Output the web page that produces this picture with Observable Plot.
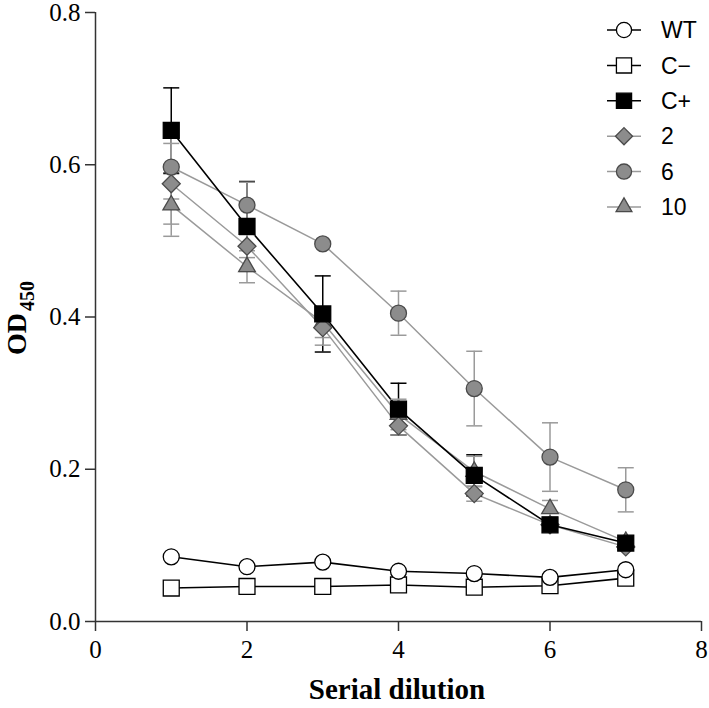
<!DOCTYPE html>
<html>
<head>
<meta charset="utf-8">
<script src="https://cdn.jsdelivr.net/npm/d3@7"></script>
<script src="https://cdn.jsdelivr.net/npm/@observablehq/plot@0.6"></script>
<style>
  html, body { margin: 0; padding: 0; background: #fff; }
  #chart { width: 709px; height: 708px; }
</style>
</head>
<body>
<div id="chart"></div>
<script>
// ---- data ----
const dilution = [1, 2, 3, 4, 5, 6, 7];
const seriesNames = ["WT", "C\u2212", "C+", "2", "6", "10"];
const wtValues   = [0.085, 0.072, 0.078, 0.066, 0.063, 0.058, 0.068];
const cNegValues = [0.044, 0.046, 0.046, 0.048, 0.045, 0.047, 0.057];
const cPosValues = [0.645, 0.519, 0.404, 0.279, 0.192, 0.127, 0.103];
const cPosErr    = [0.056, 0.059, 0.050, 0.034, 0.027, 0.008, 0.004];
const s2Values   = [0.575, 0.493, 0.386, 0.257, 0.168, 0.127, 0.098];
const s2Err      = [0.053, 0.015, 0.023, 0.012, 0.010, 0.008, 0.004];
const s6Values   = [0.597, 0.547, 0.496, 0.405, 0.306, 0.216, 0.173];
const s6Err      = [0.042, 0.030, 0.000, 0.029, 0.049, 0.045, 0.029];
const s10Values  = [0.547, 0.466, 0.393, 0.272, 0.197, 0.148, 0.105];
const s10Err     = [0.041, 0.021, 0.020, 0.020, 0.020, 0.011, 0.004];
const xTicks = [0, 2, 4, 6, 8];
const yTicks = [0, 0.2, 0.4, 0.6, 0.8];

// ---- styles per series ----
const GRAY_FILL = "#8c8c8c", GRAY_STROKE = "#4a4a4a", GRAY_LINE = "#9a9a9a";
const style = {
  "WT":      {symbol: "circle",   r: 8,   fill: "#fff",    stroke: "#000",      line: "#000"},
  "C\u2212": {symbol: "square",   r: 9,   fill: "#fff",    stroke: "#000",      line: "#000"},
  "C+":      {symbol: "square",   r: 9,   fill: "#000",    stroke: "#000",      line: "#000"},
  "2":       {symbol: "diamond2", r: 8.1, fill: GRAY_FILL, stroke: GRAY_STROKE, line: GRAY_LINE},
  "6":       {symbol: "circle",   r: 8,   fill: GRAY_FILL, stroke: GRAY_STROKE, line: GRAY_LINE},
  "10":      {symbol: "triangle", r: 6.2, fill: GRAY_FILL, stroke: GRAY_STROKE, line: GRAY_LINE}
};

const valueArrays = [wtValues, cNegValues, cPosValues, s2Values, s6Values, s10Values];
const errArrays = [null, null, cPosErr, s2Err, s6Err, s10Err];
const rows = [];
seriesNames.forEach((s, i) => {
  dilution.forEach((x, j) => {
    rows.push({series: s, x, y: valueArrays[i][j], e: errArrays[i] ? errArrays[i][j] : 0});
  });
});
const dotOrder = ["C\u2212", "WT", "10", "2", "6", "C+"];
const errRows = rows.filter(d => d.e > 0);

const capSymbol = {
  draw(context, size) {
    const r = Math.sqrt(size / Math.PI);
    context.moveTo(-r, 0);
    context.lineTo(r, 0);
  }
};
const errColor = d => style[d.series].line === "#000" ? "#000" : GRAY_LINE;

const W = 709, H = 708;
const SERIF = "'Liberation Serif', 'Times New Roman', serif";
const plot = Plot.plot({
  width: W,
  height: H,
  marginLeft: 95,
  marginRight: 8,
  marginTop: 12,
  marginBottom: 87,
  style: {fontFamily: SERIF, fontSize: "24px", color: "#000", background: "#fff"},
  x: {domain: [0, 8]},
  y: {domain: [0, 0.8]},
  marks: [
    Plot.axisX({ticks: xTicks, tickSize: 10, tickPadding: 9, label: null, tickFormat: d3.format("d"), fontSize: 25, stroke: "#333", strokeWidth: 1.5}),
    Plot.axisY({ticks: yTicks, tickSize: 10, tickPadding: 5, label: null, tickFormat: d3.format(".1f"), fontSize: 25, stroke: "#333", strokeWidth: 1.5}),
    Plot.ruleX([0], {stroke: "#333", strokeWidth: 1.5}),
    Plot.ruleY([0], {stroke: "#333", strokeWidth: 1.5}),
    ...seriesNames.slice().reverse().map(s =>
      Plot.line(rows.filter(d => d.series === s), {x: "x", y: "y", stroke: style[s].line, strokeWidth: style[s].line === "#000" ? 1.6 : 1.5})
    ),
    Plot.ruleX(errRows, {x: "x", y1: d => d.y - d.e, y2: d => d.y + d.e, stroke: errColor, strokeWidth: 1.5}),
    Plot.dot(errRows, {x: "x", y: d => d.y + d.e, symbol: capSymbol, r: 8, fill: "none", stroke: errColor, strokeWidth: 1.5}),
    Plot.dot(errRows, {x: "x", y: d => d.y - d.e, symbol: capSymbol, r: 8, fill: "none", stroke: errColor, strokeWidth: 1.5}),
    ...dotOrder.map(s =>
      Plot.dot(rows.filter(d => d.series === s), {x: "x", y: "y", symbol: style[s].symbol, r: style[s].r, fill: style[s].fill, stroke: style[s].stroke, strokeWidth: 1.3})
    )
  ]
});

document.getElementById("chart").appendChild(plot);

// ---- axis titles ----
const svg = d3.select(plot);
svg.append("text")
  .attr("x", 397).attr("y", 699)
  .attr("text-anchor", "middle")
  .style("font-family", SERIF)
  .style("font-weight", "bold")
  .style("font-size", "29px")
  .text("Serial dilution");

const yt = svg.append("text")
  .attr("transform", "translate(26,318) rotate(-90)")
  .attr("text-anchor", "middle")
  .style("font-family", SERIF)
  .style("font-weight", "bold")
  .style("font-size", "28px");
yt.append("tspan").text("OD");
yt.append("tspan").attr("dx", 2).attr("dy", 8).style("font-size", "20px").text("450");

// ---- legend ----
const lg = svg.append("g").attr("class", "legend");
const symMap = {circle: d3.symbolCircle, square: d3.symbolSquare, diamond2: d3.symbolDiamond2, triangle: d3.symbolTriangle};
seriesNames.forEach((s, i) => {
  const cy = 30 + i * 35.4;
  const st = style[s];
  const g = lg.append("g").attr("transform", `translate(0,${cy})`);
  g.append("line").attr("x1", 607).attr("x2", 641).attr("y1", 0).attr("y2", 0)
    .attr("stroke", st.line).attr("stroke-width", 1.5);
  const rr = st.r * 0.95;
  g.append("path")
    .attr("transform", "translate(624,0)")
    .attr("d", d3.symbol(symMap[st.symbol], Math.PI * rr * rr)())
    .attr("fill", st.fill).attr("stroke", st.stroke).attr("stroke-width", 1.3);
  g.append("text").attr("x", 661).attr("y", 0).attr("dy", "0.36em")
    .attr("text-anchor", "start")
    .style("font-family", "'Liberation Sans', Arial, sans-serif")
    .style("font-size", "23px")
    .text(s);
});
</script>
</body>
</html>
